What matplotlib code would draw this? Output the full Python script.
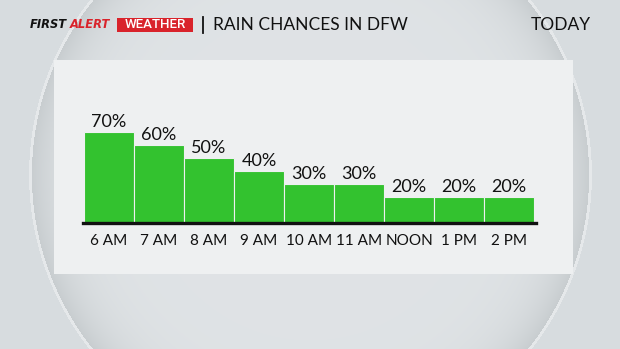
import numpy as np
import matplotlib.pyplot as plt
from matplotlib.patches import Rectangle

# rain chances by hour
hours = ["6 AM", "7 AM", "8 AM", "9 AM", "10 AM", "11 AM", "NOON", "1 PM", "2 PM"]
rain_chance = [70, 60, 50, 40, 30, 30, 20, 20, 20]

W, H = 620, 349
GREEN = "#33c22f"
PANEL = "#eef0f1"
RED = "#d9232b"

fig = plt.figure(figsize=(6.2, 3.49), dpi=100)

# background in pixel coords
bg = fig.add_axes([0, 0, 1, 1])
bg.set_xlim(0, W)
bg.set_ylim(H, 0)
bg.axis("off")

yy, xx = np.mgrid[0:H, 0:W]
d = np.hypot(xx - 310, yy - 174.5) / 280
c_out = np.array([0.845, 0.865, 0.875])
c_mid = np.array([0.875, 0.89, 0.90])
c_rim = np.array([0.78, 0.80, 0.81])
t = np.clip(d, 0, 1)[..., None] ** 10
img = np.where((d < 1)[..., None], c_mid * (1 - t) + c_rim * t, c_out)
rim = (np.abs(d - 1) < 0.005)[..., None]
img = np.where(rim, np.array([0.90, 0.91, 0.92]), img)
bg.imshow(img, extent=(0, W, H, 0), aspect="auto", zorder=0)

bg.add_patch(Rectangle((54, 60), 519, 214, facecolor=PANEL, edgecolor="none", zorder=1))

# header
bg.text(30, 25, "FIRST", color="#111111", fontsize=8.3, fontweight="bold",
        style="oblique", family="DejaVu Sans", va="center", ha="left", zorder=3)
bg.text(70, 25, "ALERT", color=RED, fontsize=8.3, fontweight="bold",
        style="oblique", family="DejaVu Sans", va="center", ha="left", zorder=3)
bg.add_patch(Rectangle((117, 17.5), 76, 14, facecolor=RED, edgecolor="none", zorder=2))
bg.text(155, 25, "WEATHER", color="white", fontsize=9.5, family="Roboto",
        fontweight="medium", va="center", ha="center", zorder=3)
bg.plot([203, 203], [17, 33], color="#111111", lw=1.3, zorder=3)
bg.text(213, 25, "RAIN CHANCES IN DFW", color="#111111", fontsize=12.5,
        family="Lato", va="center", ha="left", zorder=3)
bg.text(591, 25, "TODAY", color="#111111", fontsize=12.5,
        family="Lato", va="center", ha="right", zorder=3)

# bar chart
ax = fig.add_axes([83 / W, (H - 223) / H, 453 / W, 163 / H])
ax.patch.set_alpha(0)
x = np.arange(len(hours))
ax.bar(x, rain_chance, width=1.0, color=GREEN, edgecolor=PANEL, linewidth=0.8, zorder=2)
ax.axhline(0, color="#111111", lw=2.4, zorder=3, clip_on=False)
for xi, v in zip(x, rain_chance):
    ax.annotate(f"{v}%", (xi, v), xytext=(0, 3.5), textcoords="offset points",
                ha="center", va="baseline", fontsize=13, family="Lato",
                color="#111111")
ax.set_xlim(-0.52, 8.54)
ax.set_ylim(0, 163 / 1.3)
ax.set_xticks(x)
ax.set_xticklabels(hours, fontsize=11, family="Lato", color="#111111")
ax.tick_params(axis="x", length=0, pad=8)
ax.set_yticks([])
for s in ax.spines.values():
    s.set_visible(False)

fig.savefig("out.png", dpi=100)
